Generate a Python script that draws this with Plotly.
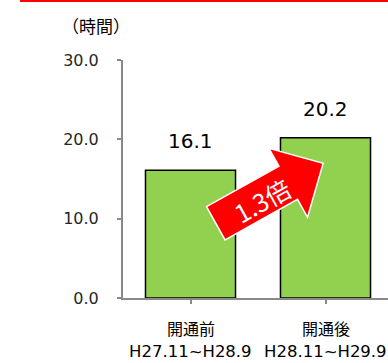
import math
import plotly.graph_objects as go

# ---- data ----
categories = ["開通前", "開通後"]
periods = ["H27.11~H28.9", "H28.11~H29.9"]
values = [16.1, 20.2]
value_labels = ["16.1", "20.2"]
y_ticks = [0, 10, 20, 30]
y_tick_labels = ["0.0", "10.0", "20.0", "30.0"]
unit_label = "（時間）"
ratio_label = "1.3倍"

# ---- layout constants (pixels) ----
W, H = 388, 363
PL, PR, PT, PB = 123, 388, 60, 298          # plot area edges
CAT_W = 135                                   # pixels per category
Y_MAX = 30
x_range = [-0.5, -0.5 + (PR - PL) / CAT_W]


def to_data(px, py):
    return (-0.5 + (px - PL) / CAT_W, (PB - py) / (PB - PT) * Y_MAX)


def to_paper(px, py):
    return ((px - PL) / (PR - PL), (PB - py) / (PB - PT))


fig = go.Figure()
fig.add_trace(go.Bar(
    x=list(range(len(categories))), y=values,
    marker=dict(color="#92D050", line=dict(color="#000000", width=1.5)),
    width=0.667, hoverinfo="skip",
))

annotations = []
# value labels
for i, (v, t) in enumerate(zip(values, value_labels)):
    annotations.append(dict(x=i, y=v, xref="x", yref="y", text=t, showarrow=False,
                            yanchor="middle", yshift=29,
                            font=dict(family="DejaVu Sans", size=20, color="#000000")))
# category labels (two lines)
for i, (c, p) in enumerate(zip(categories, periods)):
    annotations.append(dict(x=i, y=0, xref="x", yref="paper", text=c, showarrow=False,
                            yanchor="middle", yshift=-(327.5 - PB),
                            font=dict(family="Noto Sans CJK JP", size=16, color="#000000")))
    annotations.append(dict(x=i, y=0, xref="x", yref="paper", text=p, showarrow=False,
                            yanchor="bottom", yshift=-(H - PB),
                            font=dict(family="DejaVu Sans", size=16.5, color="#000000")))
# unit label
ux, uy = to_paper(96, 25)
annotations.append(dict(x=ux, y=uy, xref="paper", yref="paper", text=unit_label,
                        showarrow=False, xanchor="center", yanchor="middle",
                        font=dict(family="Noto Sans CJK JP", size=17, color="#000000")))

# ---- arrow decoration ----
ang = math.radians(29.2)
ux_, uy_ = math.cos(ang), -math.sin(ang)     # along arrow (screen coords)
nx_, ny_ = math.sin(ang), math.cos(ang)      # normal
tail = (215.8, 223.3)
L_total, L_head, hw_body, hw_head = 123, 40, 19, 39.5


def pt(t, s):
    return (tail[0] + t * ux_ + s * nx_, tail[1] + t * uy_ + s * ny_)


Lb = L_total - L_head
poly = [pt(0, -hw_body), pt(Lb, -hw_body), pt(Lb, -hw_head), pt(L_total, 0),
        pt(Lb, hw_head), pt(Lb, hw_body), pt(0, hw_body)]
path = ""
for k, (px, py) in enumerate(poly):
    dx, dy = to_data(px, py)
    path += ("M" if k == 0 else "L") + f"{dx:.4f},{dy:.4f} "
path += "Z"

shapes = [dict(type="path", path=path, xref="x", yref="y",
               fillcolor="#FF0000", line=dict(color="#FFFFFF", width=1.5), layer="above")]

# red frame corner at top
fx0, fy0 = to_paper(21, 1)
shapes.append(dict(type="rect", xref="paper", yref="paper", x0=fx0, x1=1.2, y0=fy0, y1=fy0 + 0.2,
                   line=dict(color="#FF0000", width=2), fillcolor="rgba(0,0,0,0)"))

tx, ty = to_data(262, 200)
annotations.append(dict(x=tx, y=ty, xref="x", yref="y", text=ratio_label, showarrow=False,
                        textangle=-29.2, xanchor="center", yanchor="middle",
                        font=dict(family="Noto Sans CJK JP", size=25, color="#FFFFFF")))

fig.update_layout(
    width=W, height=H,
    margin=dict(l=PL, r=W - PR, t=PT, b=H - PB, pad=0),
    paper_bgcolor="white", plot_bgcolor="white",
    showlegend=False,
    annotations=annotations, shapes=shapes,
    xaxis=dict(range=x_range, tickvals=list(range(len(categories))),
               showticklabels=False, tickson="boundaries",
               ticks="outside", ticklen=4, tickcolor="#898989", tickwidth=1.5,
               showline=True, linecolor="#898989", linewidth=2,
               showgrid=False, zeroline=False, fixedrange=True),
    yaxis=dict(range=[0, Y_MAX], tickvals=y_ticks, ticktext=y_tick_labels,
               ticks="outside", ticklen=4, tickcolor="#898989", tickwidth=1.5,
               ticklabelstandoff=15,
               tickfont=dict(family="DejaVu Sans", size=16, color="#262626"),
               showline=True, linecolor="#898989", linewidth=2,
               showgrid=False, zeroline=False, fixedrange=True),
)

fig.write_html("out.html", config={"displayModeBar": False})
